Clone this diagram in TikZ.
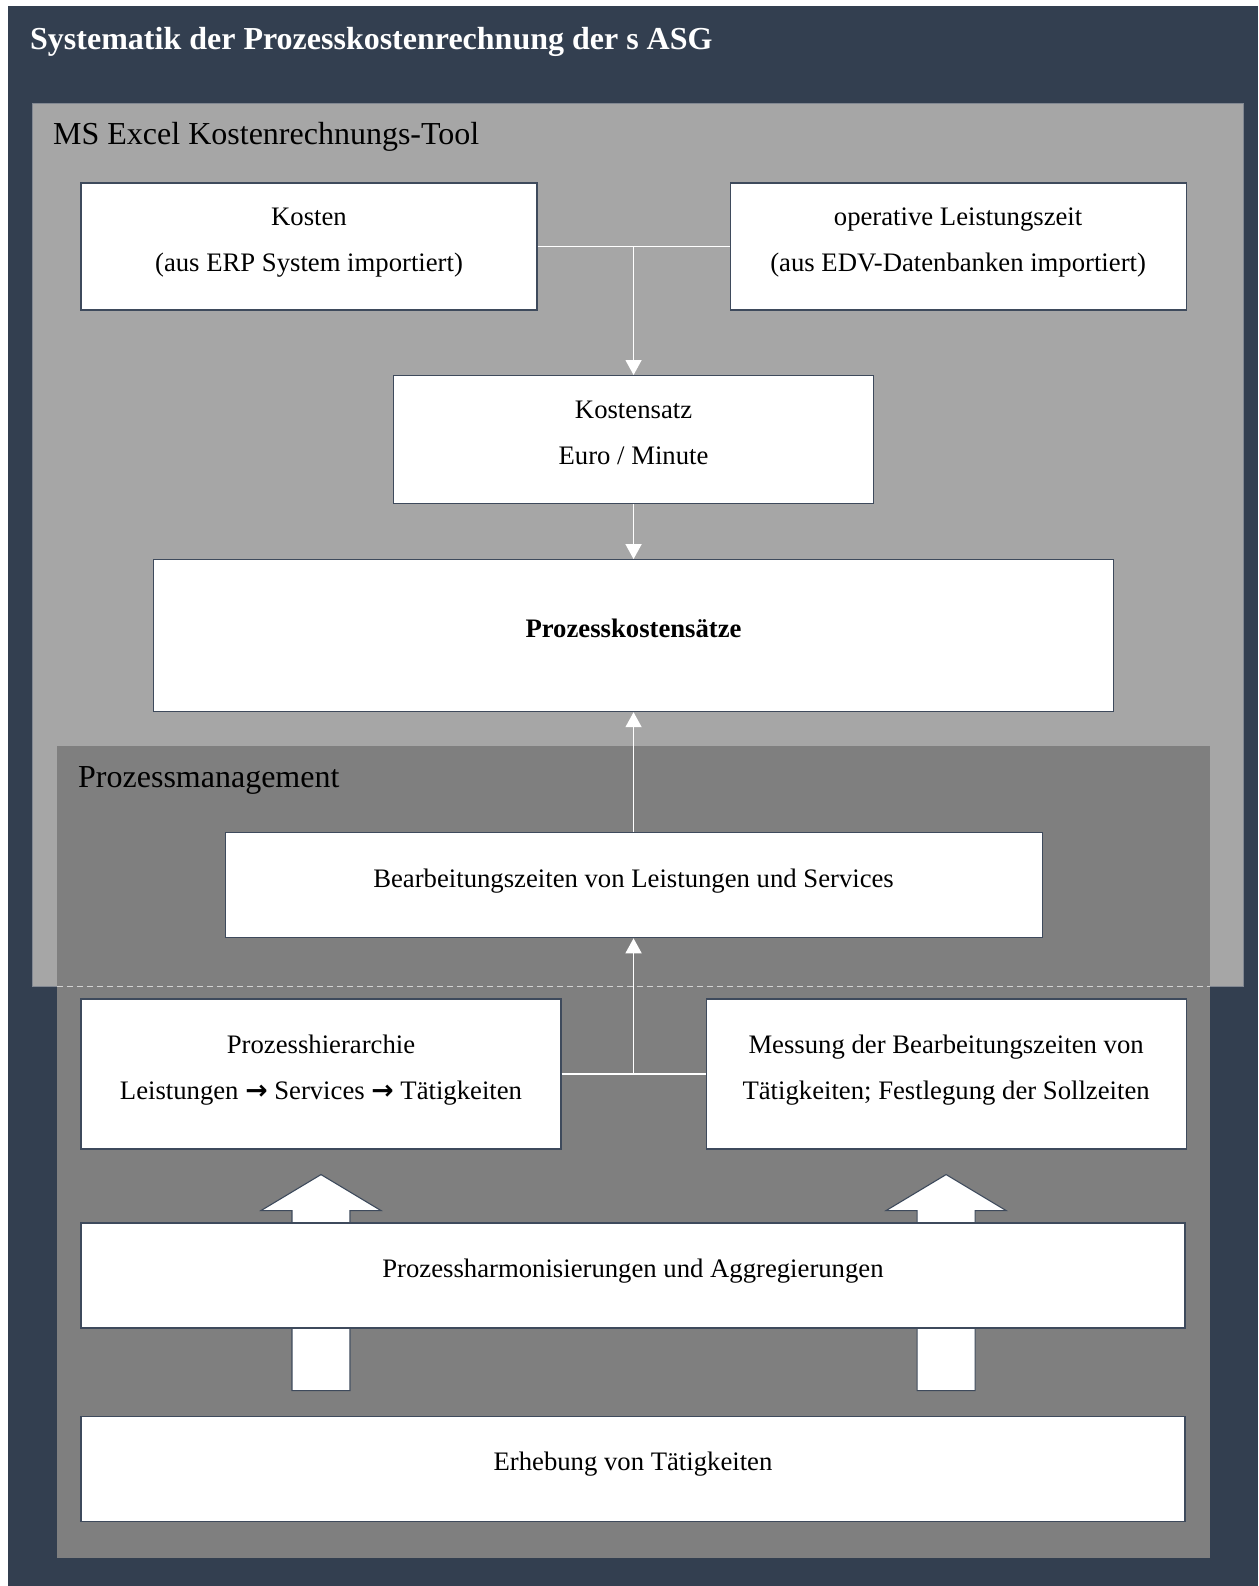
\documentclass[tikz,border=0pt]{standalone}
\usepackage{fontspec}
\setmainfont{Liberation Serif}
\newfontfamily\arrowfont{DejaVu Sans}
\usepackage{tikz}
\usetikzlibrary{positioning,arrows.meta,calc}

\definecolor{slatebg}{RGB}{51,63,80}
\definecolor{lightpanel}{RGB}{166,166,166}
\definecolor{midpanel}{RGB}{127,127,127}
\definecolor{boxline}{RGB}{62,74,92}
\definecolor{panelline}{RGB}{130,136,146}

\newcommand{\boxfont}{\fontsize{26.7}{46}\selectfont}
\newcommand{\rarr}{{\arrowfont\bfseries →}}

\begin{document}
\begin{tikzpicture}[
    x=1pt, y=-1pt,
    node distance=65pt and 192pt,
    box/.style={rectangle, draw=boxline, fill=white, line width=1.1pt, align=center, font=\boxfont, inner sep=0pt, text depth=14pt},
    pcaption/.style={anchor=west, inner sep=0pt, font=\fontsize{32}{36}\selectfont},
    maintitle/.style={anchor=west, inner sep=0pt, text=white, font=\fontsize{32}{36}\selectfont\bfseries},
    link/.style={draw=white, line width=1.5pt},
    arr/.style={link, -{Triangle[length=15pt, width=16pt]}},
    bigarr/.style={fill=white, draw=boxline, line width=1.1pt, line join=miter}
]

% Background and panels
\fill[white] (0,0) rectangle (1258,1586);
\fill[slatebg] (8,6) rectangle (1258,1586);
\filldraw[fill=lightpanel, draw=panelline, line width=0.8pt] (32,103) rectangle (1243,986);
\fill[midpanel] (57,746) rectangle (1210,1558);
\draw[gray!35, dashed, line width=1pt, dash pattern=on 6pt off 4pt] (57,986) -- (1210,986);

\node[maintitle] (title) at (30,42) {Systematik der Prozesskostenrechnung der s ASG};
\node[pcaption] (exceltool) at (53,137) {MS Excel Kostenrechnungs-Tool};
\node[pcaption] (procmgmt) at (78,780) {Prozessmanagement};

% MS Excel part
\node[box, minimum width=456pt, minimum height=127pt] (kosten) at (309,246.5) {Kosten\\(aus ERP System importiert)};
\node[box, minimum width=456pt, minimum height=127pt, right=of kosten] (operativ) {operative Leistungszeit\\(aus EDV-Datenbanken importiert)};
\coordinate (kjoin) at ($(kosten.east)!0.5!(operativ.west)$);
\node[box, minimum width=480pt, minimum height=128pt, below=128.5pt of kjoin] (kostensatz) {Kostensatz\\Euro / Minute};
\node[box, minimum width=960pt, minimum height=152pt, below=55pt of kostensatz, font=\boxfont\bfseries] (pksatz) {Prozesskostensätze};

\draw[link] (kosten) -- (operativ);
\draw[arr] (kjoin) -- (kostensatz);
\draw[arr] (kostensatz) -- (pksatz);

% Prozessmanagement part
\node[box, minimum width=817pt, minimum height=105pt, below=120pt of pksatz] (bearb) {Bearbeitungszeiten von Leistungen und Services};
\node[box, minimum width=480pt, minimum height=150pt] (hier) at (321,1074) {Prozesshierarchie\\Leistungen \rarr{} Services \rarr{} Tätigkeiten};
\node[box, minimum width=480pt, minimum height=150pt, right=144pt of hier] (messung) {Messung der Bearbeitungszeiten von\\Tätigkeiten; Festlegung der Sollzeiten};
\coordinate (hjoin) at ($(hier.east)!0.5!(messung.west)$);

\draw[link] (hier) -- (messung);
\draw[arr] (hjoin) -- (hjoin |- bearb.south);
\draw[arr] (bearb) -- (pksatz);

% Block arrows behind the harmonisation box
\foreach \col in {hier, messung}
  \draw[bigarr] ($(\col.south)+(-29,241)$) -- ++(0,-180) -- ++(-31,0) -- ++(60,-36)
    -- ++(60,36) -- ++(-31,0) -- ++(0,180) -- cycle;

\node[box, minimum width=1104pt, minimum height=105pt] (harmon) at (633,1275.5) {Prozessharmonisierungen und Aggregierungen};
\node[box, minimum width=1104pt, minimum height=105pt, below=87pt of harmon] (erhebung) {Erhebung von Tätigkeiten};

\end{tikzpicture}
\end{document}
